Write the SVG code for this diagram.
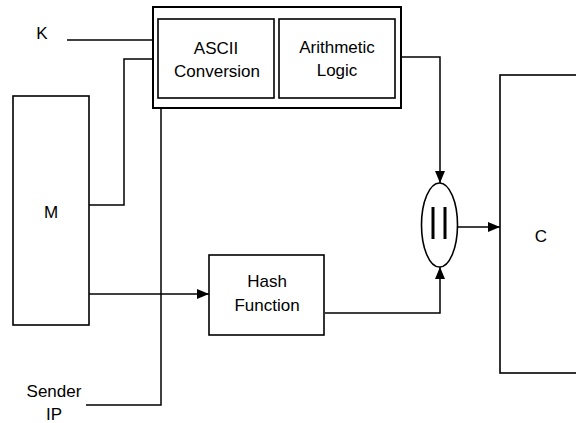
<svg xmlns="http://www.w3.org/2000/svg" width="576" height="423" viewBox="0 0 576 423">
<style>
.b{fill:#fff;stroke:#000;stroke-width:1.6}
.o{fill:#fff;stroke:#000;stroke-width:2}
.l{fill:none;stroke:#000;stroke-width:1.5}
text{font-family:"Liberation Sans",Arial,sans-serif;font-size:17px;fill:#000;text-anchor:middle}
</style>
<defs>
<marker id="ar" viewBox="0 0 12 10" refX="12" refY="5" markerWidth="12" markerHeight="10" markerUnits="userSpaceOnUse" orient="auto">
<path d="M0,0 L12,5 L0,10 Z" fill="#000"/>
</marker>
</defs>
<rect width="576" height="423" fill="#fff"/>
<g id="connectors">
<path class="l" d="M67,40 H153"/>
<path class="l" d="M89,205 H124 V59 H153"/>
<path class="l" d="M86,405 H161 V108"/>
<path class="l" d="M89,294 H209" marker-end="url(#ar)"/>
<path class="l" d="M401,57 H440 V183" marker-end="url(#ar)"/>
<path class="l" d="M325,313 H440 V267" marker-end="url(#ar)"/>
<path class="l" d="M457,227 H500" marker-end="url(#ar)"/>
</g>
<g id="proc">
<rect class="o" x="153" y="7" width="248" height="101"/>
</g>
<g id="ascii">
<rect class="b" x="158" y="19" width="116" height="79"/>
<text x="216" y="54">ASCII</text>
<text x="217" y="77">Conversion</text>
</g>
<g id="arith">
<rect class="b" x="279" y="19" width="116" height="79"/>
<text x="337" y="53">Arithmetic</text>
<text x="337" y="76">Logic</text>
</g>
<g id="M">
<rect class="b" x="13" y="96" width="76" height="229"/>
<text x="51" y="218">M</text>
</g>
<g id="hash">
<rect class="b" x="209" y="255" width="115" height="80"/>
<text x="267" y="287">Hash</text>
<text x="267" y="311">Function</text>
</g>
<g id="concat">
<ellipse class="b" cx="439.5" cy="225" rx="18" ry="42"/>
<path d="M433,207 V239 M445,207 V239" stroke="#000" stroke-width="3"/>
</g>
<g id="C">
<rect class="b" x="500" y="75" width="90" height="298"/>
<text x="541" y="242">C</text>
</g>
<g id="K">
<text x="42" y="39">K</text>
</g>
<g id="sender">
<text x="54" y="397">Sender</text>
<text x="54" y="420">IP</text>
</g>
</svg>
